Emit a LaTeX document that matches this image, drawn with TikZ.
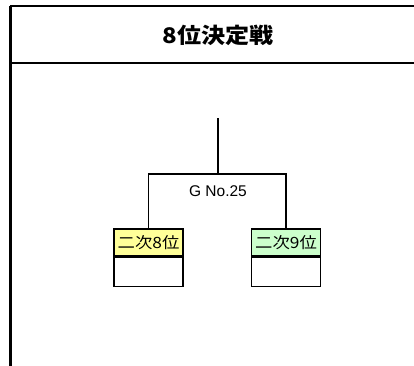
\documentclass[tikz,border=0pt]{standalone}
\usepackage{fontspec}
\setmainfont{Liberation Sans}
\newfontfamily\jp[FakeStretch=1.12]{Noto Sans CJK JP}
\definecolor{yellowfill}{HTML}{FFFF99}
\definecolor{greenfill}{HTML}{CCFFCC}
\begin{document}
\begin{tikzpicture}[x=1pt,y=-1pt,
  frame/.style={line width=2pt},
  tree/.style={line width=1.3pt},
  head/.style={draw, line width=1.3pt, minimum width=69pt, minimum height=27pt, inner sep=0pt, font=\jp\fontsize{15.5}{15.5}\selectfont},
  body/.style={draw, line width=1.3pt, minimum width=69pt, minimum height=29pt, inner sep=0pt},
  label/.style={font=\fontsize{15.5}{15.5}\selectfont, inner sep=0pt}]
\useasboundingbox (0,0) rectangle (414,365);
\draw[frame] (10,6.3) -- (416,6.3);
\draw[line width=2.6pt] (10.5,6) -- (10.5,367);
\draw[frame] (10,62.8) -- (416,62.8);
\node[font=\jp\bfseries\fontsize{21.5}{21.5}\selectfont] (title) at (218,35.5) {8位決定戦};
\coordinate (top) at (218,118);
\coordinate (junc) at (218,174);
\node[head, fill=yellowfill] (lh) at (148.5,242.5) {二次8位};
\node[body, anchor=north] (lb) at (lh.south) {};
\node[head, fill=greenfill] (rh) at (286,242.5) {二次9位};
\node[body, anchor=north] (rb) at (rh.south) {};
\node[label] (match) at (218,191) {G No.25};
\draw[tree] (top) -- (junc);
\draw[tree] (lh.north) |- (junc) -| (rh.north);
\end{tikzpicture}
\end{document}
